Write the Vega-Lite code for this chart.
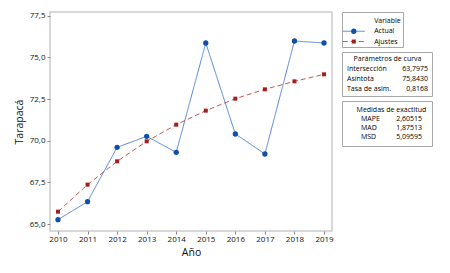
{
  "$schema": "https://vega.github.io/schema/vega-lite/v6.json",
  "background": "white",
  "padding": {"left": 13, "top": 10, "right": 0, "bottom": 0},
  "bounds": "flush",
  "spacing": 10,
  "config": {
    "font": "Open Sans",
    "axis": {"labelFont": "Open Sans", "labelFontSize": 8, "labelColor": "#111", "titleFont": "Open Sans", "titleFontSize": 10.5, "titleFontWeight": "normal", "titleColor": "#111", "tickColor": "#888", "tickSize": 3, "domain": false, "grid": false, "labelPadding": 2},
    "text": {"font": "Open Sans", "fontSize": 7, "color": "#000", "baseline": "middle"},
    "view": {"stroke": "#a8a8a8", "strokeWidth": 1}
  },
  "hconcat": [
    {
      "width": 282,
      "height": 219,
      "view": {"stroke": "#cccccc", "strokeWidth": 1.5},
      "data": {"values": [
        {"Año": "2010", "Variable": "Actual", "Tarapacá": 65.26},
        {"Año": "2011", "Variable": "Actual", "Tarapacá": 66.34},
        {"Año": "2012", "Variable": "Actual", "Tarapacá": 69.6},
        {"Año": "2013", "Variable": "Actual", "Tarapacá": 70.26},
        {"Año": "2014", "Variable": "Actual", "Tarapacá": 69.3},
        {"Año": "2015", "Variable": "Actual", "Tarapacá": 75.86},
        {"Año": "2016", "Variable": "Actual", "Tarapacá": 70.4},
        {"Año": "2017", "Variable": "Actual", "Tarapacá": 69.2},
        {"Año": "2018", "Variable": "Actual", "Tarapacá": 75.98},
        {"Año": "2019", "Variable": "Actual", "Tarapacá": 75.86},
        {"Año": "2010", "Variable": "Ajustes", "Tarapacá": 65.74},
        {"Año": "2011", "Variable": "Ajustes", "Tarapacá": 67.36},
        {"Año": "2012", "Variable": "Ajustes", "Tarapacá": 68.76},
        {"Año": "2013", "Variable": "Ajustes", "Tarapacá": 69.96},
        {"Año": "2014", "Variable": "Ajustes", "Tarapacá": 70.96},
        {"Año": "2015", "Variable": "Ajustes", "Tarapacá": 71.8},
        {"Año": "2016", "Variable": "Ajustes", "Tarapacá": 72.52},
        {"Año": "2017", "Variable": "Ajustes", "Tarapacá": 73.08},
        {"Año": "2018", "Variable": "Ajustes", "Tarapacá": 73.56},
        {"Año": "2019", "Variable": "Ajustes", "Tarapacá": 73.98}
      ]},
      "encoding": {
        "x": {"field": "Año", "type": "ordinal", "scale": {"type": "point", "padding": 0.27}, "axis": {"labelAngle": 0, "title": "Año", "labelPadding": 1, "titlePadding": 4}},
        "y": {"field": "Tarapacá", "type": "quantitative", "scale": {"domain": [64.58, 77.72], "nice": false, "zero": false}, "axis": {"values": [65, 67.5, 70, 72.5, 75, 77.5], "labelExpr": "replace(format(datum.value, '.1f'), '.', ',')", "title": "Tarapacá", "titlePadding": 5}}
      },
      "layer": [
        {
          "mark": {"type": "line", "strokeWidth": 1},
          "encoding": {
            "color": {"field": "Variable", "type": "nominal", "scale": {"domain": ["Actual", "Ajustes"], "range": ["#4f84d6", "#c65a52"]}, "legend": null},
            "strokeDash": {"field": "Variable", "type": "nominal", "scale": {"domain": ["Actual", "Ajustes"], "range": [[1, 0], [5, 3]]}, "legend": null}
          }
        },
        {
          "mark": {"type": "point", "filled": true, "opacity": 1, "strokeWidth": 0},
          "encoding": {
            "fill": {"field": "Variable", "type": "nominal", "scale": {"domain": ["Actual", "Ajustes"], "range": ["#1150a8", "#a31f1f"]}, "legend": null},
            "shape": {"field": "Variable", "type": "nominal", "scale": {"domain": ["Actual", "Ajustes"], "range": ["circle", "square"]}, "legend": null},
            "size": {"field": "Variable", "type": "nominal", "scale": {"domain": ["Actual", "Ajustes"], "range": [28, 16]}, "legend": null}
          }
        }
      ]
    },
    {
      "vconcat": [
        {
          "width": 61,
          "height": 35,
          "data": {"values": [{"Variable": "Actual"}, {"Variable": "Ajustes"}]},
          "encoding": {
            "y": {"field": "Variable", "type": "nominal", "scale": {"type": "point", "domain": ["Variable", "Actual", "Ajustes"], "padding": 0.7, "align": 0.62}, "axis": null}
          },
          "layer": [
            {
              "mark": {"type": "point", "shape": "M-1,0H1", "size": 484, "strokeWidth": 1, "filled": false, "opacity": 1},
              "encoding": {
                "x": {"datum": "símbolo", "type": "nominal", "scale": {"type": "point", "domain": ["símbolo", "etiqueta"], "padding": 1.846, "align": 0.29}, "axis": null},
                "stroke": {"field": "Variable", "type": "nominal", "scale": {"domain": ["Actual", "Ajustes"], "range": ["#4f84d6", "#c65a52"]}, "legend": null},
                "strokeDash": {"field": "Variable", "type": "nominal", "scale": {"domain": ["Actual", "Ajustes"], "range": [[1, 0], [5, 3]]}, "legend": null}
              }
            },
            {
              "mark": {"type": "point", "filled": true, "opacity": 1, "strokeWidth": 0},
              "encoding": {
                "x": {"datum": "símbolo", "type": "nominal"},
                "fill": {"field": "Variable", "type": "nominal", "scale": {"domain": ["Actual", "Ajustes"], "range": ["#1150a8", "#a31f1f"]}, "legend": null},
                "shape": {"field": "Variable", "type": "nominal", "scale": {"domain": ["Actual", "Ajustes"], "range": ["circle", "square"]}, "legend": null},
                "size": {"field": "Variable", "type": "nominal", "scale": {"domain": ["Actual", "Ajustes"], "range": [28, 16]}, "legend": null}
              }
            },
            {
              "mark": {"type": "text", "align": "left"},
              "encoding": {
                "x": {"datum": "etiqueta", "type": "nominal"},
                "text": {"field": "Variable"}
              }
            },
            {
              "data": {"values": [{"Variable": "Variable"}]},
              "mark": {"type": "text", "align": "left"},
              "encoding": {
                "x": {"datum": "etiqueta", "type": "nominal"},
                "text": {"field": "Variable"}
              }
            }
          ]
        },
        {
          "width": 90,
          "height": 44,
          "data": {"values": [
            {"Parámetro": "Intersección", "Valor": "63,7975"},
            {"Parámetro": "Asíntota", "Valor": "75,8430"},
            {"Parámetro": "Tasa de asim.", "Valor": "0,8168"}
          ]},
          "encoding": {
            "y": {"field": "Parámetro", "type": "nominal", "scale": {"type": "point", "domain": ["Parámetros de curva", "Intersección", "Asíntota", "Tasa de asim."], "padding": 0.7}, "axis": null}
          },
          "layer": [
            {
              "mark": {"type": "text", "align": "left"},
              "encoding": {
                "x": {"datum": "Parámetro", "type": "nominal", "scale": {"type": "point", "domain": ["Parámetro", "encabezado", "Valor"], "padding": 0.111, "align": 0.556}, "axis": null},
                "text": {"field": "Parámetro"}
              }
            },
            {
              "mark": {"type": "text", "align": "right"},
              "encoding": {
                "x": {"datum": "Valor", "type": "nominal"},
                "text": {"field": "Valor"}
              }
            },
            {
              "data": {"values": [{"Parámetro": "Parámetros de curva"}]},
              "mark": {"type": "text", "align": "center"},
              "encoding": {
                "x": {"datum": "encabezado", "type": "nominal"},
                "text": {"field": "Parámetro"}
              }
            }
          ]
        },
        {
          "width": 90,
          "height": 45,
          "data": {"values": [
            {"Medida": "MAPE", "Valor": "2,60515"},
            {"Medida": "MAD", "Valor": "1,87513"},
            {"Medida": "MSD", "Valor": "5,09595"}
          ]},
          "encoding": {
            "y": {"field": "Medida", "type": "nominal", "scale": {"type": "point", "domain": ["Medidas de exactitud", "MAPE", "MAD", "MSD"], "padding": 1.1}, "axis": null}
          },
          "layer": [
            {
              "mark": {"type": "text", "align": "left"},
              "encoding": {
                "x": {"datum": "Medida", "type": "nominal", "scale": {"type": "point", "domain": ["Medida", "encabezado", "Valor"], "padding": 0.475, "align": 0.655}, "axis": null},
                "text": {"field": "Medida"}
              }
            },
            {
              "mark": {"type": "text", "align": "right"},
              "encoding": {
                "x": {"datum": "Valor", "type": "nominal"},
                "text": {"field": "Valor"}
              }
            },
            {
              "data": {"values": [{"Medida": "Medidas de exactitud"}]},
              "mark": {"type": "text", "align": "center"},
              "encoding": {
                "x": {"datum": "encabezado", "type": "nominal"},
                "text": {"field": "Medida"}
              }
            }
          ]
        }
      ],
      "spacing": 3
    }
  ]
}
